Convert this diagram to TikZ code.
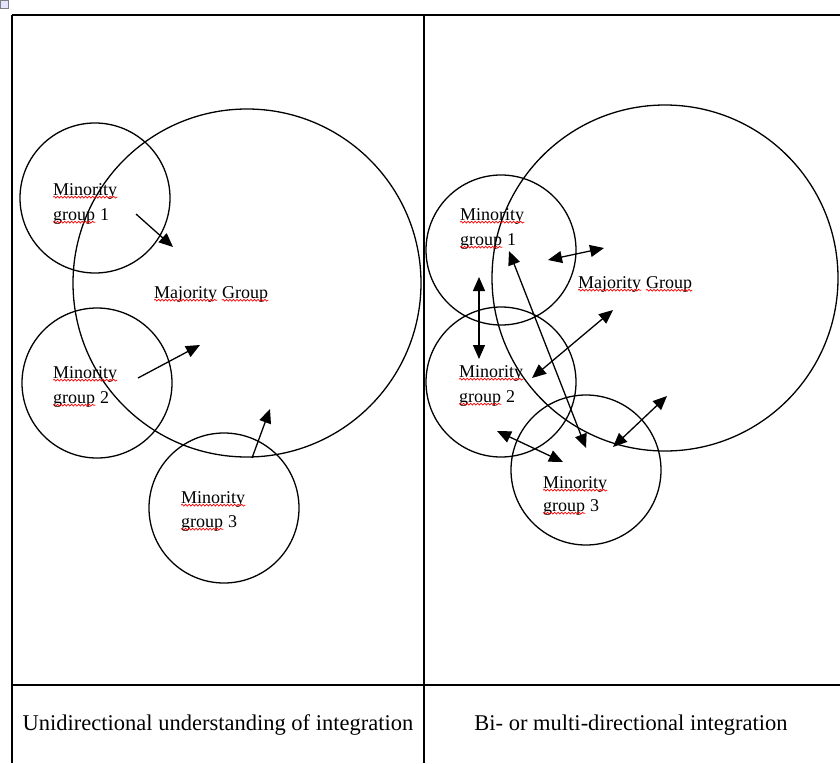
\documentclass[tikz,border=0pt]{standalone}
\usepackage{fontspec}
\setmainfont{Liberation Serif}
\usetikzlibrary{arrows.meta,decorations.pathmorphing}
\tikzset{
	word/.style={inner sep=0pt, anchor=base west, font=\fontsize{18}{25}\selectfont},
	caption/.style={inner sep=0pt, anchor=base, font=\fontsize{22.5}{27}\selectfont},
	squig/.style={red, line width=0.7pt, decorate, decoration={snake, amplitude=0.9pt, segment length=3.5pt}},
	ring/.style={line width=1.3pt},
	rule/.style={line width=1.4pt},
	oneway/.style={line width=1.3pt, -{Triangle[length=14pt,width=12pt]}},
	twoway/.style={line width=1.3pt, {Triangle[length=14pt,width=12pt]}-{Triangle[length=14pt,width=12pt]}}
}
\begin{document}
\begin{tikzpicture}[x=1pt,y=-1pt]
		\useasboundingbox (0,0) rectangle (840,763);
		\draw[gray, fill=blue!10, line width=0.5pt] (0.5,0.5) rectangle (8,8);
		
		\draw[rule, line width=2pt] (12,15) -- (840,15);
		\draw[rule] (12,15) -- (12,763);
		\draw[rule] (424,15) -- (424,763);
		\draw[rule] (12,685) -- (840,685);
		\node[caption] at (218,730) (capL) {Unidirectional understanding of integration};
		\node[caption] at (631,730) (capR) {Bi- or multi-directional integration};
		
		\draw[ring] (247,283) circle[radius=174pt];
		\draw[ring] (95,198) circle[radius=75pt];
		\draw[ring] (97,383) circle[radius=75pt];
		\draw[ring] (224,508) circle[radius=75pt];
		
		\draw[ring] (665,278) circle[radius=173pt];
		\draw[ring] (501,250) circle[radius=75pt];
		\draw[ring] (501,382) circle[radius=75pt];
		\draw[ring] (586,470) circle[radius=75pt];
		
		\foreach \x/\y/\s in {154/298/L, 578/288/R}{
			\node[word] at (\x,\y) (maj\s) {Majority};
			\node[word] at ([xshift=4.5pt]maj\s.base east) (grp\s) {Group};
			\draw[squig] ([yshift=-2.2pt]maj\s.base west) -- ([yshift=-2.2pt]maj\s.base east);
			\draw[squig] ([yshift=-2.2pt]grp\s.base west) -- ([yshift=-2.2pt]grp\s.base east);
		}
		\foreach \x/\y/\d/\n/\s in {53/195/25/1/L, 53/378/25/2/L, 181/503/24/3/L, 460/220/25/1/R, 459/377/25/2/R, 543/488/23/3/R}{
			\node[word] at (\x,\y) (min\n\s) {Minority};
			\node[word] at (\x,\y+\d) (group\n\s) {group};
			\node[word] at ([xshift=4.5pt]group\n\s.base east) (num\n\s) {\n};
			\draw[squig] ([yshift=-2.2pt]min\n\s.base west) -- ([yshift=-2.2pt]min\n\s.base east);
			\draw[squig] ([yshift=-2.2pt]group\n\s.base west) -- ([yshift=-2.2pt]group\n\s.base east);
		}
		
		\coordinate (p1s) at (136,214);
		\coordinate (p1e) at (173,247);
		\coordinate (p2s) at (138,378);
		\coordinate (p2e) at (200,345);
		\coordinate (p3s) at (252,458);
		\coordinate (p3e) at (270,409);
		\draw[oneway] (p1s) -- (p1e);
		\draw[oneway] (p2s) -- (p2e);
		\draw[oneway] (p3s) -- (p3e);
		
		\coordinate (q1a) at (548,260);
		\coordinate (q1b) at (604,248);
		\coordinate (q2a) at (479,277);
		\coordinate (q2b) at (479,359);
		\coordinate (q3a) at (509,251);
		\coordinate (q3b) at (586,448);
		\coordinate (q4a) at (532,378);
		\coordinate (q4b) at (613,310);
		\coordinate (q5a) at (613,447);
		\coordinate (q5b) at (667,396);
		\coordinate (q6a) at (497,431);
		\coordinate (q6b) at (563,462);
		\draw[twoway] (q1a) -- (q1b);
		\draw[twoway] (q2a) -- (q2b);
		\draw[twoway] (q3a) -- (q3b);
		\draw[twoway] (q4a) -- (q4b);
		\draw[twoway] (q5a) -- (q5b);
		\draw[twoway] (q6a) -- (q6b);
\end{tikzpicture}
\end{document}
